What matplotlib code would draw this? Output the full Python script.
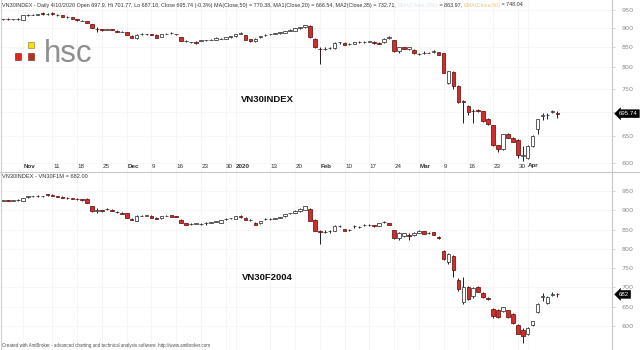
import matplotlib
matplotlib.use('Agg')
import matplotlib.pyplot as plt
import numpy as np
from matplotlib.patches import Rectangle
from matplotlib.transforms import blended_transform_factory
from matplotlib.ticker import FixedLocator, NullLocator, FixedFormatter

# ---------------- data ----------------
# VN30INDEX daily OHLC, 28 Oct 2019 .. 10 Apr 2020 (113 bars)
idx_open = [924, 925, 924, 925, 923, 936, 937, 937, 942, 939, 942, 937, 935, 930, 929, 925, 920, 919, 911, 897,
            897, 895, 896, 893, 889, 888, 879, 873, 884, 884, 883, 882, 877, 884, 886, 884, 876, 866, 862, 864,
            866, 867, 868, 868, 872, 872, 875, 878, 885, 880, 870, 866, 875, 880, 883, 884, 886, 887, 893, 893,
            899, 902, 906, 871, 846, 845, 847, 847, 862, 861, 857, 858, 863, 863, 864, 864, 861, 862, 874, 868,
            840, 849, 844, 843, 833, 835, 836, 838, 837, 834, 762, 788, 756, 722, 713, 701, 704, 701, 684, 672,
            633, 626, 654, 647, 643, 613, 609, 632, 665, 692, 693, 700, 697.9]
idx_high = [926, 927, 926, 927, 936, 939, 939, 939, 943, 941, 943, 938, 936, 932, 930, 926, 922, 920, 912, 904,
            898, 897, 897, 894, 891, 889, 880, 883, 886, 885, 884, 883, 885, 886, 889, 885, 877, 868, 864, 865,
            868, 869, 870, 875, 874, 877, 879, 885, 888, 881, 872, 873, 879, 883, 885, 887, 889, 893, 896, 901,
            903, 908, 907, 873, 850, 850, 851, 863, 864, 862, 860, 864, 865, 866, 866, 865, 862, 874, 878, 869,
            851, 850, 851, 845, 836, 840, 838, 843, 838, 835, 792, 792, 758, 726, 715, 705, 706, 702, 686, 673,
            634, 655, 656, 648, 644, 632, 634, 652, 685, 698, 698, 704, 701.77]
idx_low = [922, 923, 922, 923, 922, 934, 935, 935, 937, 937, 937, 934, 930, 928, 925, 920, 918, 914, 899, 888,
           892, 894, 894, 888, 888, 881, 873, 871, 882, 882, 881, 873, 876, 883, 885, 881, 865, 864, 860, 859,
           865, 866, 867, 867, 870, 871, 874, 877, 884, 868, 864, 864, 874, 879, 882, 883, 885, 886, 892, 892,
           897, 901, 873, 847, 807, 842, 845, 846, 859, 854, 855, 857, 861, 861, 863, 859, 857, 861, 872, 838,
           834, 845, 842, 832, 830, 832, 834, 836, 830, 786, 760, 750, 718, 677, 694, 677, 700, 679, 672, 632,
           620, 624, 646, 639, 609, 604, 607, 630, 655, 683, 685, 697, 687.18]
idx_close = [925, 924, 925, 926, 935, 937, 937, 938, 939, 939, 938, 936, 931, 930, 926, 921, 920, 915, 900, 896,
             894, 896, 895, 889, 890, 882, 874, 882, 884, 883, 882, 874, 884, 885, 887, 883, 866, 866, 862, 860,
             867, 868, 869, 874, 872, 876, 878, 884, 887, 869, 865, 872, 878, 882, 884, 886, 888, 892, 895, 900,
             902, 907, 875, 849, 845, 846, 848, 861, 862, 855, 858, 863, 862, 864, 865, 860, 858, 872, 875, 840,
             849, 846, 850, 834, 833, 836, 835, 839, 831, 787, 790, 757, 720, 720, 699, 701, 701, 680, 674, 633,
             625, 654, 647, 640, 615, 614, 632, 651, 684, 693, 693, 701, 695.74]

# VN30F2004 (VN30F1M) daily OHLC, same bars
fut_open = [925, 926, 925, 926, 925, 934, 936, 937, 936, 941, 940, 937, 935, 933, 931, 930, 928, 930, 910, 899,
            900, 903, 902, 895, 894, 893, 878, 873, 886, 886, 886, 881, 879, 885, 887, 884, 876, 866, 864, 865,
            864, 866, 868, 870, 868, 877, 879, 878, 886, 881, 876, 868, 866, 877, 877, 878, 881, 884, 892, 893,
            897, 902, 904, 876, 845, 843, 845, 846, 859, 851, 849, 859, 856, 862, 862, 862, 859, 870, 867, 848,
            827, 834, 836, 836, 842, 846, 841, 843, 832, 795, 766, 781, 720, 663, 701, 678, 701, 686, 672, 644,
            642, 639, 641, 631, 602, 590, 579, 602, 636, 675, 660, 681, 683]
fut_high = [927, 927, 927, 928, 933, 937, 938, 939, 938, 942, 941, 938, 936, 934, 932, 931, 929, 931, 911, 906,
            902, 905, 903, 897, 895, 894, 879, 887, 888, 888, 887, 882, 885, 887, 888, 885, 877, 867, 866, 867,
            866, 870, 870, 872, 876, 879, 881, 886, 887, 882, 877, 869, 873, 881, 879, 880, 883, 891, 894, 900,
            905, 911, 905, 877, 848, 848, 849, 861, 862, 852, 851, 863, 858, 864, 864, 863, 868, 872, 868, 849,
            843, 842, 840, 844, 848, 847, 844, 844, 834, 797, 790, 783, 724, 728, 704, 702, 703, 688, 674, 646,
            645, 650, 642, 633, 604, 595, 597, 614, 660, 685, 677, 688, 686]
fut_low = [924, 924, 924, 925, 924, 933, 934, 935, 934, 938, 936, 934, 932, 930, 928, 927, 925, 918, 896, 894,
           895, 902, 897, 893, 890, 880, 874, 872, 885, 885, 880, 877, 878, 884, 882, 882, 866, 861, 862, 864,
           862, 863, 867, 869, 867, 876, 878, 877, 881, 875, 873, 862, 865, 874, 876, 877, 880, 883, 891, 892,
           896, 901, 871, 845, 812, 840, 842, 845, 856, 846, 847, 855, 854, 860, 860, 857, 858, 868, 862, 826,
           822, 830, 822, 834, 840, 838, 838, 836, 826, 772, 762, 726, 692, 658, 668, 672, 687, 673, 668, 622,
           622, 637, 620, 605, 578, 557, 576, 600, 634, 666, 657, 677, 676]
fut_close = [926, 925, 926, 927, 932, 936, 937, 936, 937, 939, 937, 935, 933, 931, 929, 928, 926, 920, 897, 902,
             898, 904, 898, 895, 891, 881, 876, 886, 886, 887, 881, 878, 884, 886, 883, 883, 867, 862, 864, 866,
             864, 866, 869, 871, 875, 878, 880, 885, 882, 876, 875, 863, 872, 878, 878, 879, 882, 890, 893, 899,
             904, 910, 872, 846, 844, 844, 846, 860, 859, 847, 849, 860, 856, 862, 862, 858, 866, 870, 863, 827,
             842, 840, 834, 842, 846, 839, 842, 837, 829, 774, 786, 744, 695, 700, 671, 699, 689, 675, 671, 625,
             624, 648, 624, 608, 580, 575, 594, 612, 657, 677, 675, 683, 682]

# date axis: bar index of each labelled day, its label, bold (month/year) or not
tick_idx = [4, 10, 15, 20, 25, 30, 35, 40, 45, 47, 54, 59, 64, 69, 74, 79, 84, 89, 94, 99, 104, 106]
tick_lab = ['Nov', '11', '18', '25', 'Dec', '9', '16', '23', '30', '2020', '13', '20', 'Feb', '10', '17', '24',
            'Mar', '9', '16', '23', '30', 'Apr']
tick_bold = [True, False, False, False, True, False, False, False, False, True, False, False, True, False, False,
             False, True, False, False, False, False, True]

price_ticks = [950, 900, 850, 800, 750, 700, 650, 600]
top_last = 695.74
bot_last = 682

# ---------------- figure ----------------
W, H = 640, 350
fig = plt.figure(figsize=(W / 100, H / 100), dpi=100)
fig.patch.set_facecolor('white')


def fy(ypx):
    return 1 - ypx / H


SEP = 171.5
ax1 = fig.add_axes([0, fy(SEP), 612 / W, SEP / H])
ax2 = fig.add_axes([0, 0, 612 / W, (H - SEP) / H])

UP_FACE = 'white'
DN_FACE = '#d42b2b'


def candles(ax, o, h, l, c):
    o, h, l, c = map(np.asarray, (o, h, l, c))
    x = np.arange(len(o))
    ax.vlines(x, l, h, color='#1e1e1e', lw=0.7, zorder=2)
    up = c >= o
    bottom = np.minimum(o, c)
    height = np.abs(c - o)
    faces = [UP_FACE if u else DN_FACE for u in up]
    edges = ['#333333' if u else '#6a1212' for u in up]
    ax.bar(x, height, bottom=bottom, width=0.72, color=faces, edgecolor=edges, linewidth=0.55, zorder=3)


xl = (-3 / 4.95, (612 - 3) / 4.95)

for ax in (ax1, ax2):
    ax.set_facecolor('white')
    ax.set_xlim(*xl)
    for s in ('top', 'left', 'bottom'):
        ax.spines[s].set_visible(False)
    ax.spines['right'].set_color('#c8c8c8')
    ax.spines['right'].set_linewidth(0.8)
    ax.xaxis.set_major_locator(NullLocator())
    ax.yaxis.tick_right()
    ax.tick_params(axis='y', which='major', length=2, width=0.5, color='#c0c0c0', labelsize=4.6,
                   labelcolor='#8a8a8a', pad=5)
    ax.tick_params(axis='y', which='minor', length=0)
    for t in tick_idx:
        ax.axvline(t, color='#f1f1f1', lw=0.5, zorder=0)

candles(ax1, idx_open, idx_high, idx_low, idx_close)
candles(ax2, fut_open, fut_high, fut_low, fut_close)

# top pane: log scale (950 at y=10 px, 600 at y=163 px)
ax1.set_yscale('log')
ax1.set_ylim(950 * np.exp(-(SEP - 10) / 333), 950 * np.exp(10 / 333))
# bottom pane: linear (950 at y=191 px, 600 at y=326 px)
ax2.set_ylim(950 - (H - 191) / 0.3857, 950 + (191 - SEP) / 0.3857)

for ax in (ax1, ax2):
    ax.yaxis.set_major_locator(FixedLocator(price_ticks))
    ax.yaxis.set_major_formatter(FixedFormatter([str(p) for p in price_ticks]))
    ax.yaxis.set_minor_locator(NullLocator())
    for p in price_ticks:
        ax.axhline(p, color='#f4f4f4', lw=0.5, zorder=0)

# tick label hidden behind the value box in the top pane
for lbl, p in zip(ax1.yaxis.get_majorticklabels(), price_ticks):
    if p == 700:
        lbl.set_visible(False)

# last value labels
for ax, v, s in ((ax1, top_last, '695.74'), (ax2, bot_last, '682')):
    tr = blended_transform_factory(ax.transAxes, ax.transData)
    ax.text(1 + 7 / 612, v, s, transform=tr, ha='left', va='center', fontsize=4.4, color='white',
            family='Liberation Sans', clip_on=False, zorder=10,
            bbox=dict(boxstyle='larrow,pad=0.25', fc='black', ec='black', lw=0.3))

# date labels (top pane bottom strip)
trd = blended_transform_factory(ax1.transData, ax1.transAxes)
for t, lab, b in zip(tick_idx, tick_lab, tick_bold):
    ax1.text(t + 0.1, (SEP - 166) / SEP, lab, transform=trd, ha='left', va='center', fontsize=4.5,
             color='#303030', fontweight='bold' if b else 'normal', family='Liberation Sans')

# separator line and left frame
fig.add_artist(plt.Line2D([0, 1], [fy(SEP), fy(SEP)], color='#c8c8c8', lw=0.8))
fig.add_artist(plt.Line2D([0.5 / W, 0.5 / W], [0, 1], color='#d0d0d0', lw=0.8))

# title with coloured parts
pieces = [("VN30INDEX - Daily 4/10/2020 Open 697.9, Hi 701.77, Lo 687.18, Close 695.74 (-0.3%) "
           "MA(Close,50) = 770.38, MA1(Close,20) = 666.54, MA2(Close,35) = 732.71, ", '#333333'),
          ("EMA(Close,200)", '#dde5ee'),
          (" = 863.97, ", '#333333'),
          ("EMA(Close,50)", '#f4c27c'),
          (" = 748.04", '#333333')]
renderer = fig.canvas.get_renderer()
xc = 2
for s, col in pieces:
    t = fig.text(xc / W, fy(5), s, color=col, fontsize=3.85, family='Liberation Sans', ha='left', va='center')
    xc += t.get_window_extent(renderer).width

fig.text(2 / W, fy(SEP + 5), "VN30INDEX - VN30F1M = 682.00", color='#333333', fontsize=4.1,
         family='Liberation Sans', ha='left', va='center')
fig.text(2 / W, fy(346), "Created with AmiBroker - advanced charting and technical analysis software. "
         "http://www.amibroker.com", color='#505050', fontsize=3.25, family='Liberation Sans', ha='left',
         va='center')

# logo
for (cx, cy, col) in ((30.7, 45, '#f3e500'), (18, 56.5, '#e3231b'), (30.7, 56.5, '#b5321f')):
    fig.add_artist(Rectangle(((cx - 3.2) / W, fy(cy + 3.2)), 6.4 / W, 6.4 / H, transform=fig.transFigure,
                             fc=col, ec='#8a6a30' if col == '#f3e500' else '#7a1a10', lw=0.4))
fig.text(44 / W, fy(62), 'hsc', color='#8e8e8e', fontsize=22.5, family='Liberation Sans', ha='left',
         va='baseline')

# pane captions
fig.text(267 / W, fy(99), 'VN30INDEX', fontsize=6.8, fontweight='bold', family='Liberation Sans',
         ha='center', va='center', color='#111111')
fig.text(267 / W, fy(277), 'VN30F2004', fontsize=6.8, fontweight='bold', family='Liberation Sans',
         ha='center', va='center', color='#111111')

fig.savefig('out.png', dpi=100, facecolor='white')
